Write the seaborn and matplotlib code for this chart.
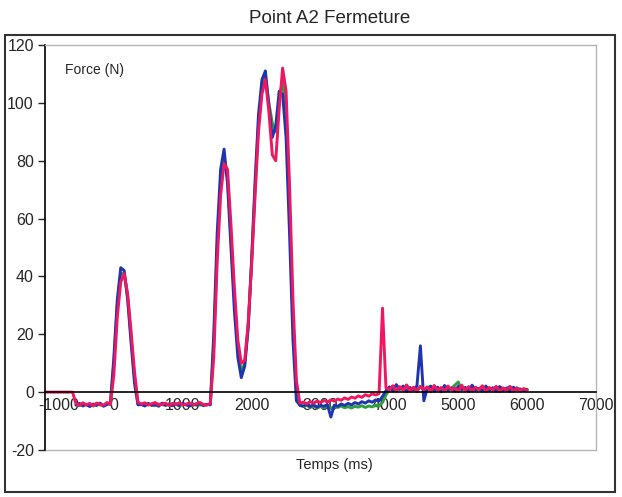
import numpy as np
import pandas as pd
import matplotlib
matplotlib.use("Agg")
import matplotlib.pyplot as plt
import matplotlib.transforms as mtransforms
import seaborn as sns
from matplotlib.patches import Rectangle

# time grid (ms), one sample every 50 ms
temps = np.arange(-1000, 6001, 50)

# essai 1 (blue)
force_bleu = (
    [np.nan] * 9
    + [-4.5, -3.9, -4.8, -4.2, -5.0, -4.1, -4.6, -3.8, -4.9, -4.3, -3.6]
    + [12, 32, 43, 42, 32, 17, 3, -4.4]
    + [-4.3, -4.8, -3.9, -4.6, -4.1, -4.9, -3.8, -4.5, -4.2, -4.7,
       -4.0, -4.6, -3.9, -4.4, -4.8, -4.1, -4.5, -3.8, -4.7, -4.2, -4.4]
    + [20, 55, 77, 84, 72, 50, 28, 12, 5, 9,
       22, 46, 73, 96, 108, 111, 99, 88, 92, 104,
       103, 88, 55, 18, -3, -4.5]
    + [-4.8, -4.2, -5.0, -4.4, -5.2, -4.6, -4.9, -4.3, -8.6, -4.5,
       -4.9, -4.1, -4.6, -3.9, -4.4, -3.6, -4.1, -3.3, -3.8, -3.0, -3.5, -2.7]
    + [-3.1, -1.5, 0.5]
    + [1.8, 0.4, 2.6, 0.9, 2.1, 0.2, 1.6, 0.7, 2.2, 16,
       -3.0, 1.3, 2.0, 0.5, 1.7, 0.1, 2.3, 0.8, 1.4, 0.3,
       2.0, 0.9, 1.6, 0.2, 2.4, 0.7, 1.3, 0.4, 2.1, 0.6,
       1.5, 0.3, 1.9, 0.8, 1.4, 0.2, 1.7, 0.9, 1.1, 0.5, 0.9]
)

# essai 2 (green)
force_vert = (
    [np.nan] * 9
    + [-4.2, -4.7, -4.0, -4.5, -4.3, -4.8, -4.1, -4.4, -4.6, -4.0, -4.3]
    + [10, 30, 41, 41, 33, 19, 5, -4.1]
    + [-4.2, -4.5, -4.0, -4.4, -4.7, -4.1, -4.3, -4.6, -4.0, -4.5,
       -4.2, -4.8, -4.1, -4.4, -4.3, -4.6, -4.0, -4.5, -4.2, -4.4, -4.1]
    + [16, 50, 73, 81, 74, 53, 32, 15, 7, 10,
       23, 45, 70, 93, 105, 109, 100, 93, 90, 101,
       108, 96, 62, 25, 0, -4.6]
    + [-5.0, -4.6, -5.3, -4.8, -5.5, -5.0, -5.4, -4.9, -5.6, -5.1,
       -5.3, -4.8, -5.4, -5.0, -5.5, -4.9, -5.2, -4.7, -5.3, -4.8, -5.1, -4.5]
    + [-4.8, -3.5, -1.0]
    + [1.0, 2.0, 0.5, 1.6, 0.9, 2.3, 0.4, 1.4, 0.8, 1.9,
       0.6, 1.2, 2.1, 0.3, 1.5, 0.9, 1.8, 0.5, 1.3, 2.4,
       3.5, 0.7, 1.6, 0.4, 1.9, 0.8, 1.3, 0.5, 1.7, 0.9,
       1.4, 0.3, 1.8, 0.6, 1.2, 2.0, 0.7, 1.5, 0.4, 1.1, 0.8]
)

# essai 3 (red / pink)
force_rouge = (
    [0, 0, 0, 0, 0, 0, 0, 0, 0]
    + [-4.0, -4.6, -3.7, -4.4, -3.9, -4.7, -3.8, -4.3, -4.5, -3.6, -4.2]
    + [6, 26, 38, 41, 34, 21, 7, -3.5]
    + [-4.1, -3.7, -4.5, -4.0, -3.6, -4.4, -4.2, -3.8, -4.6, -3.9,
       -4.3, -3.7, -4.5, -4.1, -3.8, -4.4, -4.0, -3.6, -4.3, -4.5, -3.9]
    + [12, 45, 68, 79, 77, 58, 36, 18, 10, 11,
       24, 44, 68, 90, 103, 108, 97, 82, 80, 98,
       112, 104, 72, 32, 4, -3.8]
    + [-3.5, -4.0, -3.3, -3.8, -3.1, -3.6, -2.9, -3.4, -2.7, -3.1,
       -2.4, -2.8, -2.0, -2.5, -1.7, -2.1, -1.3, -1.8, -0.9, -1.4, -0.6, -1.0]
    + [-0.5, 29, 1.5]
    + [0.8, 2.2, 0.3, 1.9, 0.6, 2.5, 0.4, 1.7, 0.2, 2.0,
       0.9, 1.8, 0.1, 2.3, 0.7, 1.6, 0.3, 2.1, 0.8, 1.5,
       0.2, 2.4, 0.6, 1.9, 0.4, 1.7, 0.9, 2.2, 0.3, 1.6,
       0.8, 2.0, 0.2, 1.5, 0.7, 1.9, 0.4, 1.4, 0.6, 1.2, 0.8]
)

x_ticks = [-1000, 0, 1000, 2000, 3000, 4000, 5000, 6000, 7000]
y_ticks = [-20, 0, 20, 40, 60, 80, 100, 120]

df = pd.DataFrame({"temps": temps, "vert": force_vert,
                   "bleu": force_bleu, "rouge": force_rouge})
df = df.melt(id_vars="temps", var_name="essai", value_name="force")

sns.set_style("white")
plt.rcParams["font.family"] = ["Liberation Sans", "DejaVu Sans"]
plt.rcParams["axes.unicode_minus"] = False

fig = plt.figure(figsize=(6.22, 4.97), dpi=100)
ax = fig.add_axes([0.0723, 0.0946, 0.886, 0.815])

palette = {"vert": "#2e9e3e", "bleu": "#1f35b0", "rouge": "#f01660"}
sns.lineplot(data=df, x="temps", y="force", hue="essai",
             hue_order=["vert", "bleu", "rouge"], palette=palette,
             estimator=None, legend=False, lw=2.1, ax=ax)

ax.set_xlim(-1000, 7000)
ax.set_ylim(-20, 120)
ax.set_xticks(x_ticks)
ax.set_yticks(y_ticks)
ax.set_xlabel("")
ax.set_ylabel("")

# excel style: x axis crosses at 0, grey plot-area border
ax.spines["bottom"].set_position(("data", 0))
ax.spines["bottom"].set_color("black")
ax.spines["bottom"].set_linewidth(1.2)
ax.spines["left"].set_color("black")
ax.spines["left"].set_linewidth(1.2)
for s in ["top", "right"]:
    ax.spines[s].set_color("#b5b5b5")
    ax.spines[s].set_linewidth(1.0)
ax.axhline(-20, color="#b5b5b5", lw=1.0, clip_on=False)

ax.tick_params(axis="x", direction="inout", length=6, width=1,
               labelsize=11.5, pad=1)
ax.tick_params(axis="y", direction="out", length=5, width=1,
               labelsize=11.5, pad=3, left=True)

# the -1000 label sits a bit right of its tick, clear of the y axis
first = ax.get_xticklabels()[0]
first.set_transform(first.get_transform() +
                    mtransforms.ScaledTranslation(14 / 100, 0, fig.dpi_scale_trans))

ax.text(0.036, 0.938, "Force (N)", transform=ax.transAxes,
        fontsize=10, va="center", ha="left")
ax.text(0.526, -0.037, "Temps (ms)", transform=ax.transAxes,
        fontsize=10.5, va="center", ha="center")

fig.text(0.53, 0.962, "Point A2 Fermeture", fontsize=13.5,
         ha="center", va="center")

# outer chart frame
fig.patches.append(Rectangle((0.008, 0.01), 0.981, 0.92, transform=fig.transFigure,
                             fill=False, edgecolor="#333333", lw=1.5))

fig.savefig("out.png", dpi=100)
